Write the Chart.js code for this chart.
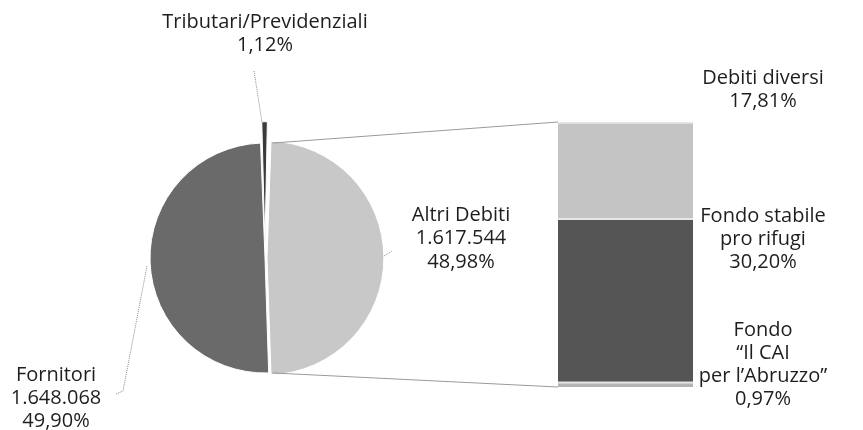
<!DOCTYPE html>
<html><head><meta charset="utf-8">
<script src="https://cdn.jsdelivr.net/npm/chart.js@4/dist/chart.umd.min.js"></script>
<style>
html,body{margin:0;padding:0;background:#fff;}
#wrap{position:relative;width:863px;height:430px;}
canvas{position:absolute;left:0;top:0;}
</style></head><body>
<div id="wrap"><canvas id="pie" width="863" height="430"></canvas><canvas id="bar" width="863" height="430"></canvas></div>
<script>
// Pie (main) data
const pieLabels = ['Tributari/Previdenziali', 'Altri Debiti', 'Fornitori'];
const pieValues = [1.12, 48.98, 49.90];
const pieAmounts = ['', '1.617.544', '1.648.068'];
const pieColors = ['#3a3a3a', '#c8c8c8', '#6a6a6a'];
const pieOffsets = [44, 8, 0];
// Bar (breakdown of Altri Debiti), bottom to top
const barLabels = ['Fondo "Il CAI per l\u2019Abruzzo"', 'Fondo stabile pro rifugi', 'Debiti diversi'];
const barValues = [0.97, 30.20, 17.81];
const barColors = ['#b4b4b4', '#555555', '#c4c4c4'];

const FONT = '20px "Open Sans", "Noto Sans", sans-serif';
Chart.defaults.animation = false;

const barChart = new Chart(document.getElementById('bar'), {
  type: 'bar',
  data: {
    labels: ['Altri Debiti'],
    datasets: barValues.map((v, i) => ({
      label: barLabels[i], data: [v], backgroundColor: barColors[i],
      borderColor: '#e6e6e6', borderWidth: {top: 2, bottom: 0, left: 0, right: 0}, borderSkipped: false,
      barPercentage: 1, categoryPercentage: 1
    }))
  },
  options: {
    responsive: false,
    layout: {padding: {left: 558, right: 170, top: 122, bottom: 43}},
    plugins: {legend: {display: false}, tooltip: {enabled: false}},
    scales: {
      x: {display: false, stacked: true},
      y: {display: false, stacked: true, min: 0, max: barValues.reduce((a, b) => a + b, 0)}
    }
  }
});

function lines(ctx, arr, x, y, lh) {
  arr.forEach((t, i) => ctx.fillText(t, x, y + i * lh));
}

const overlay = {
  id: 'overlay',
  afterDraw(chart) {
    const ctx = chart.ctx;
    const arcs = chart.getDatasetMeta(0).data;
    const altri = arcs[1];
    const bmeta0 = barChart.getDatasetMeta(0).data[0];
    const bmetaTop = barChart.getDatasetMeta(2).data[0];
    const barLeft = bmeta0.x - bmeta0.width / 2;
    const off = pieOffsets[1] / 2;
    const cx = altri.x, cy = altri.y, r = altri.outerRadius;
    const sa = altri.startAngle, ea = altri.endAngle;
    const mid = (sa + ea) / 2;
    const dx = Math.cos(mid) * off, dy = Math.sin(mid) * off;
    ctx.save();
    ctx.strokeStyle = '#9a9a9a';
    ctx.lineWidth = 1;
    ctx.beginPath();
    ctx.moveTo(cx + dx + Math.cos(sa) * r, cy + dy + Math.sin(sa) * r);
    ctx.lineTo(barLeft, bmetaTop.y);
    ctx.moveTo(cx + dx + Math.cos(ea) * r, cy + dy + Math.sin(ea) * r);
    ctx.lineTo(barLeft, bmeta0.base);
    ctx.stroke();
    // leader lines
    ctx.strokeStyle = '#8a8a8a';
    ctx.setLineDash([1, 1]);
    ctx.beginPath();
    ctx.moveTo(254, 71); ctx.lineTo(262, 122);
    ctx.moveTo(116, 394); ctx.lineTo(123, 391); ctx.lineTo(147, 266);
    ctx.moveTo(384, 256); ctx.lineTo(392, 251);
    ctx.stroke();
    ctx.setLineDash([]);
    // labels
    ctx.fillStyle = '#1e1e1e';
    ctx.font = FONT;
    ctx.textAlign = 'center';
    ctx.textBaseline = 'middle';
    lines(ctx, [pieLabels[0], '1,12%'], 265, 22, 23);
    lines(ctx, [pieLabels[1], pieAmounts[1], '48,98%'], 461, 215, 23.5);
    lines(ctx, [pieLabels[2], pieAmounts[2], '49,90%'], 56, 375, 23);
    lines(ctx, ['Debiti diversi', '17,81%'], 763, 78, 23);
    lines(ctx, ['Fondo stabile', 'pro rifugi', '30,20%'], 763, 216, 23);
    lines(ctx, ['Fondo', '\u201CIl CAI', 'per l\u2019Abruzzo\u201D', '0,97%'], 763, 330, 23);
    ctx.restore();
  }
};

new Chart(document.getElementById('pie'), {
  type: 'pie',
  data: {
    labels: pieLabels,
    datasets: [{
      data: pieValues, backgroundColor: pieColors, offset: pieOffsets,
      borderColor: '#ffffff', borderWidth: 1
    }]
  },
  options: {
    responsive: false,
    rotation: -2.2,
    radius: 115,
    layout: {padding: {left: 100, right: 433, top: 100, bottom: 14}},
    plugins: {legend: {display: false}, tooltip: {enabled: false}}
  },
  plugins: [overlay]
});
</script>
</body></html>
